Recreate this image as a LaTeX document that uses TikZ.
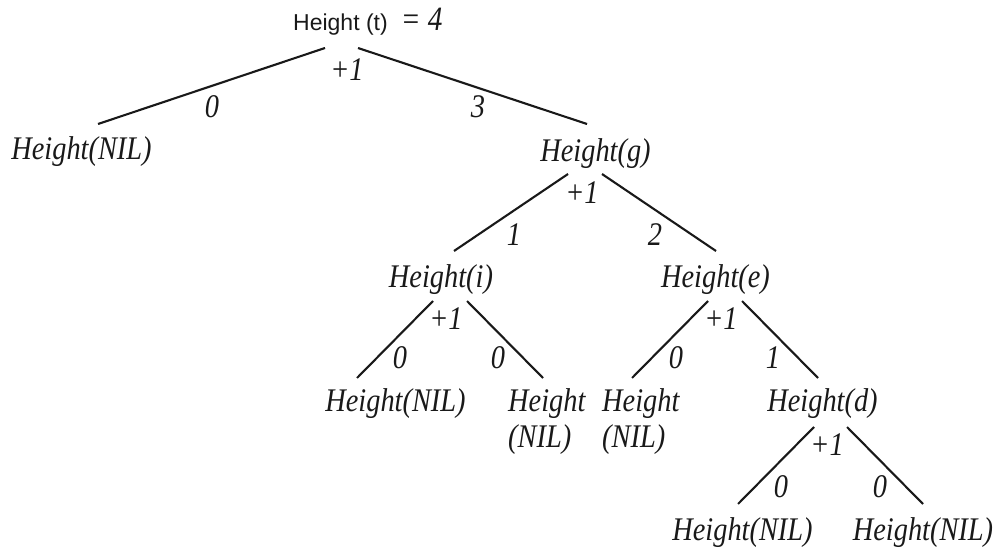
\documentclass[tikz,border=0pt]{standalone}
\usepackage{fontspec}
\newfontfamily\labfont{Liberation Serif}[FakeStretch=0.86]
\newfontfamily\rootfont{Liberation Sans}
\begin{document}
\begin{tikzpicture}[x=1pt,y=-1pt,
  lab/.style={font={\labfont\itshape\fontsize{33}{36}\selectfont}, inner sep=0pt, text=black!90},
  num/.style={lab, anchor=center},
  edge/.style={line width=2.1pt, draw=black!90}]
\useasboundingbox (0,0) rectangle (1000,548);

% nodes
\node[anchor=base west, inner sep=0pt, text=black!90] (t) at (293,31)
  {{\rootfont\fontsize{23}{27}\selectfont Height (t)}\hspace{13pt}{\labfont\itshape\fontsize{34}{36}\selectfont = 4}};
\node[lab, anchor=base] (nil1) at (81.5,160) {Height(NIL)};
\node[lab, anchor=base] (g) at (595.5,161) {Height(g)};
\node[lab, anchor=base] (i) at (441,287) {Height(i)};
\node[lab, anchor=base] (e) at (715.5,287) {Height(e)};
\node[lab, anchor=base] (nil2) at (395.5,411) {Height(NIL)};
\node[lab, anchor=north west, align=left] (nil3) at (508,388) {Height\\(NIL)};
\node[lab, anchor=north west, align=left] (nil4) at (602,388) {Height\\(NIL)};
\node[lab, anchor=base] (d) at (822.5,411) {Height(d)};
\node[lab, anchor=base] (nil5) at (742.5,540) {Height(NIL)};
\node[lab, anchor=base] (nil6) at (923,540) {Height(NIL)};

% connector end points
\coordinate (t-l) at (325,48);   \coordinate (nil1-t) at (98,124);
\coordinate (t-r) at (358,48);   \coordinate (g-t) at (587,124);
\coordinate (g-l) at (568,174);  \coordinate (i-t) at (454,251);
\coordinate (g-r) at (602,174);  \coordinate (e-t) at (716,251);
\coordinate (i-l) at (433,301);  \coordinate (nil2-t) at (357,378);
\coordinate (i-r) at (467,301);  \coordinate (nil3-t) at (543,378);
\coordinate (e-l) at (708,301);  \coordinate (nil4-t) at (632,378);
\coordinate (e-r) at (742,301);  \coordinate (d-t) at (818,378);
\coordinate (d-l) at (814,427);  \coordinate (nil5-t) at (738,504);
\coordinate (d-r) at (847,427);  \coordinate (nil6-t) at (923,504);

% connectors
\draw[edge] (t-l) -- (nil1-t);
\draw[edge] (t-r) -- (g-t);
\draw[edge] (g-l) -- (i-t);
\draw[edge] (g-r) -- (e-t);
\draw[edge] (i-l) -- (nil2-t);
\draw[edge] (i-r) -- (nil3-t);
\draw[edge] (e-l) -- (nil4-t);
\draw[edge] (e-r) -- (d-t);
\draw[edge] (d-l) -- (nil5-t);
\draw[edge] (d-r) -- (nil6-t);

% labels
\node[num] (pt) at (347,70) {+1};
\node[num] (lt0) at (212,107) {0};
\node[num] (rt3) at (478,107) {3};
\node[num] (pg) at (582,193) {+1};
\node[num] (lg1) at (514,235) {1};
\node[num] (rg2) at (655,235) {2};
\node[num] (pi) at (446,319) {+1};
\node[num] (li0) at (400,358) {0};
\node[num] (ri0) at (498,358) {0};
\node[num] (pe) at (721,319) {+1};
\node[num] (le0) at (676,358) {0};
\node[num] (re1) at (773,358) {1};
\node[num] (pd) at (827,445) {+1};
\node[num] (ld0) at (781,487) {0};
\node[num] (rd0) at (880,487) {0};
\end{tikzpicture}
\end{document}
